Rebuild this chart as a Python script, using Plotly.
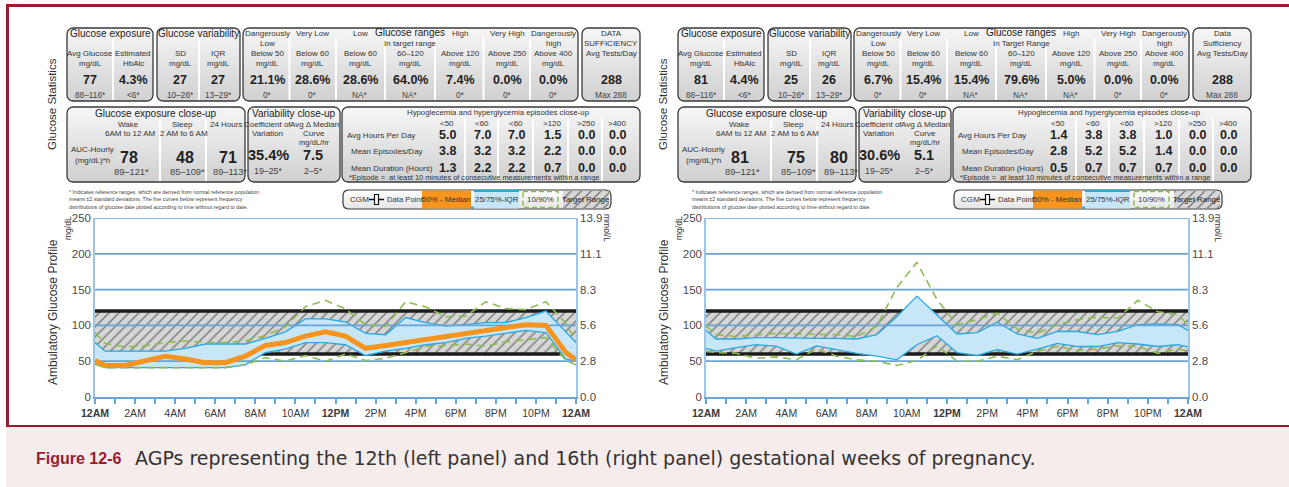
import numpy as np
import plotly.graph_objects as go

W, H = 1289, 487
FONT = "Liberation Sans, Arial, Helvetica, sans-serif"

# ---------------- profile data (mg/dL by hour of day) ----------------
HOURS = [0, 0.5, 1.5, 2.5, 3.5, 4.5, 5.5, 6.5, 7.5, 8.5, 9.5, 10.5, 11.5,
         12.5, 13.5, 14.5, 15.5, 16.5, 17.5, 18.5, 19.5, 20.5, 21.5, 22.5, 23.5, 24]

# week 12
W12_P10 = [46, 41, 41, 41, 41, 41, 41, 41, 45, 55, 50, 58, 50,
           60, 51, 54, 62, 71, 72, 74, 71, 77, 80, 83, 51, 45]
W12_P25 = [46, 41, 41, 41, 41, 41, 41, 41, 45, 62, 67, 76, 76,
           73, 58, 64, 68, 73, 76, 82, 85, 89, 93, 90, 53, 50]
W12_P50 = [51, 44, 44, 50, 57, 53, 48, 48, 57, 72, 76, 85, 91,
           85, 68, 72, 76, 80, 85, 89, 93, 97, 101, 100, 62, 52]
W12_P75 = [76, 64, 64, 64, 64, 68, 74, 74, 74, 82, 91, 109, 109,
           105, 89, 87, 111, 104, 99, 101, 104, 104, 111, 120, 91, 76]
W12_P90 = [90, 75, 70, 71.5, 76, 78.5, 76, 76, 78.5, 85.5, 98.5, 126, 135,
           123, 101, 98.5, 133, 126, 112, 113, 133, 123.6, 122, 133, 103, 77.6]

# week 16 (no median curve shown)
W16_P10 = [64, 62, 61, 54, 56, 52, 67, 57, 52, 50, 44, 51, 71.5,
           50, 50, 57, 52, 64, 70.6, 65, 67, 71.5, 70.6, 61, 67, 64]
W16_P25 = [68, 64, 69, 73, 71, 60, 71.5, 66, 61, 57, 52, 73, 85.5,
           62, 58, 66, 60, 67, 75, 70.5, 70.5, 76, 74, 70.5, 73, 70]
W16_P75 = [93, 81, 81, 83, 83, 82, 82, 82, 81, 87, 112, 141, 115,
           88, 90, 104.5, 88, 82, 91.5, 91.5, 87, 91.5, 101, 102, 101, 93]
W16_P90 = [99.5, 87, 84.6, 87, 89, 88, 87, 87, 84.6, 98.5, 153, 188, 136,
           101, 108, 117, 95, 89, 101, 108, 111.5, 110, 135, 119, 115, 101]

TARGET_LOW, TARGET_HIGH = 60, 120
X_RANGE = [0, 24]
HOUR_TICKS = list(range(25))
HOUR_LABELS = ["<b>12AM</b>", "", "2AM", "", "4AM", "", "6AM", "", "8AM", "", "10AM", "",
               "<b>12PM</b>", "", "2PM", "", "4PM", "", "6PM", "", "8PM", "", "10PM", "",
               "<b>12AM</b>"]
Y_TICKS = [0, 50, 100, 150, 200, 250]
MMOL_LABELS = ["0.0", "2.8", "5.6", "8.3", "11.1", "13.9"]

# ---------------- statistics tables ----------------
W12_STATS = ["77", "4.3%", "27", "27", "21.1%", "28.6%", "28.6%", "64.0%", "7.4%", "0.0%", "0.0%", "288"]
W12_REFS = ["88–116*", "<6*", "10–26*", "13–29*", "0*", "0*", "NA*", "NA*", "0*", "0*", "0*", "Max 288"]
W16_STATS = ["81", "4.4%", "25", "26", "6.7%", "15.4%", "15.4%", "79.6%", "5.0%", "0.0%", "0.0%", "288"]
W16_REFS = ["88–116*", "<6*", "10–26*", "13–29*", "0*", "0*", "NA*", "NA*", "NA*", "0*", "0*", "Max 288"]

AUC_REFS = ["89–121*", "85–109*", "89–113*"]
VAR_REFS = ["19–25*", "2–5*"]
W12_AUC = ["78", "48", "71"]
W16_AUC = ["81", "75", "80"]
W12_VAR = ["35.4%", "7.5"]
W16_VAR = ["30.6%", "5.1"]

EPI_HEADERS = ["<50", "<60", "<60", ">120", ">250", ">400"]
EPI_ROWS = ["Avg Hours Per Day", "Mean Episodes/Day", "Mean Duration (Hours)"]
W12_EPI = [[5.0, 7.0, 7.0, 1.5, 0.0, 0.0],
           [3.8, 3.2, 3.2, 2.2, 0.0, 0.0],
           [1.3, 2.2, 2.2, 0.7, 0.0, 0.0]]
W16_EPI = [[1.4, 3.8, 3.8, 1.0, 0.0, 0.0],
           [2.8, 5.2, 5.2, 1.4, 0.0, 0.0],
           [0.5, 0.7, 0.7, 0.7, 0.0, 0.0]]

FOOTNOTE = ["* Indicates reference ranges, which are derived from normal reference population",
            "means ±2 standard deviations. The five curves below represent frequency",
            "distributions of glucose date plotted according to time without regard to date."]

# ---------------- colours ----------------
MAROON = "#9a1b30"
GRID = "#6aa3d5"
AXIS = "#9cc5e8"
IQR_LINE = "#27a9e1"
IQR_FILL = "#c7e7f8"
MEDIAN = "#f7941d"
DECILE = "#8dbd52"
BLACK = "#1b1b1b"
HATCH = dict(shape="/", bgcolor="#d6d6d6", fgcolor="#1e1e1e", size=7, solidity=0.2)

fig = go.Figure()
annotations = []
shapes = []


def text(x, y, s, size=8, color="#333333", bold=False, xanchor="center", angle=0, family=FONT):
    if bold:
        s = "<b>%s</b>" % s
    annotations.append(dict(x=x, y=y, xref="x3", yref="y5", text=s, showarrow=False,
                            font=dict(size=size, color=color, family=family),
                            xanchor=xanchor, yanchor="middle", textangle=angle))


def vline(x, y0, y1, color="white", width=2):
    shapes.append(dict(type="line", xref="x3", yref="y5", x0=x, x1=x, y0=y0, y1=y1,
                       line=dict(color=color, width=width), layer="above"))


def rounded_box(x0, y0, x1, y1, r=6, top="#f6f6f6", bottom="#d0d0d0", border="#3a3a3a", width=1.3):
    xs, ys = [], []
    for cx, cy, a0, a1 in [(x1 - r, y0 + r, -90, 0), (x1 - r, y1 - r, 0, 90),
                           (x0 + r, y1 - r, 90, 180), (x0 + r, y0 + r, 180, 270)]:
        for a in np.radians(np.linspace(a0, a1, 8)):
            xs.append(cx + r * np.cos(a))
            ys.append(cy + r * np.sin(a))
    xs.append(xs[0])
    ys.append(ys[0])
    fig.add_trace(go.Scatter(
        x=xs, y=ys, mode="lines", fill="toself",
        fillgradient=dict(type="vertical", colorscale=[[0, top], [1, bottom]], start=y0, stop=y1),
        line=dict(color=border, width=width), xaxis="x3", yaxis="y5",
        hoverinfo="skip", showlegend=False))


def agp(xa, ya, ya_right, p10, p25, p75, p90, p50=None):
    common = dict(xaxis=xa, yaxis=ya, mode="lines", hoverinfo="skip", showlegend=False)
    # target range band
    fig.add_trace(go.Scatter(x=X_RANGE, y=[TARGET_LOW] * 2, line=dict(color=BLACK, width=3.5), **common))
    fig.add_trace(go.Scatter(x=X_RANGE, y=[TARGET_HIGH] * 2, fill="tonexty", fillpattern=HATCH,
                             line=dict(color=BLACK, width=3.5), **common))
    # interquartile band
    fig.add_trace(go.Scatter(x=HOURS, y=p25, line=dict(color=IQR_LINE, width=1.3), **common))
    fig.add_trace(go.Scatter(x=HOURS, y=p75, fill="tonexty", fillcolor=IQR_FILL,
                             line=dict(color=IQR_LINE, width=1.3), **common))
    # horizontal grid over the bands
    for v in Y_TICKS[1:]:
        fig.add_trace(go.Scatter(x=X_RANGE, y=[v, v], line=dict(color=GRID, width=1.7), **common))
    # 10th / 90th percentiles
    for p in (p10, p90):
        fig.add_trace(go.Scatter(x=HOURS, y=p, line=dict(color=DECILE, width=1.6, dash="8px,5px"), **common))
    if p50 is not None:
        fig.add_trace(go.Scatter(x=HOURS, y=p50, line=dict(color=MEDIAN, width=5), **common))
    # empty trace so the mmol/L axis is drawn
    fig.add_trace(go.Scatter(x=X_RANGE, y=[None, None], xaxis=xa, yaxis=ya_right, mode="lines",
                             hoverinfo="skip", showlegend=False))


def panel(dx, stats, refs, target_label, suff, auc, var, epi, note_x):
    X = lambda v: v + dx
    # --- top statistics row ---
    rounded_box(X(67), 28, X(153), 101)
    rounded_box(X(157), 28, X(240), 101)
    rounded_box(X(243), 28, X(578), 101)
    rounded_box(X(582), 28, X(640), 101)
    for sx in (113, 199, 289.5, 336, 385, 435, 483.5, 530):
        vline(X(sx), 38, 100)
    text(X(110), 33, "Glucose exposure", size=10, color="#222")
    text(X(198), 33, "Glucose variability", size=10, color="#222")
    text(X(410), 32, "Glucose ranges", size=10, color="#222")
    heads = [("Avg Glucose", "mg/dL"), ("Estimated", "HbAlc"), ("SD", "mg/dL"), ("IQR", "mg/dL")]
    for cx, (c, d) in zip((90, 133, 180, 218), heads):
        text(X(cx), 53, c)
        text(X(cx), 63, d)
    range_heads = [("Dangerously", "Low", "Below 50"), ("Very Low", "", "Below 60"), ("Low", "", "Below 60"),
                   ("", target_label, "60–120"), ("High", "", "Above 120"), ("Very High", "", "Above 250"),
                   ("Dangerously", "high", "Above 400")]
    range_cols = (267, 312, 360, 410, 460, 507, 553)
    for cx, (a, b, c) in zip(range_cols, range_heads):
        if a:
            text(X(cx), 33.5, a)
        if b:
            text(X(cx), 43, b)
        text(X(cx), 53, c)
        text(X(cx), 63, "mg/dL")
    text(X(611), 33.5, suff[0])
    text(X(611), 43, suff[1])
    text(X(611), 53, "Avg Tests/Day")
    for cx, v, r in zip((90, 133, 180, 218) + range_cols + (611,), stats, refs):
        text(X(cx), 80, v, size=12.5, color="#222", bold=True)
        text(X(cx), 95, r, size=8.3, color="#444")

    # --- close-up row ---
    rounded_box(X(67), 107, X(245), 182)
    rounded_box(X(248), 107, X(340), 182)
    rounded_box(X(342), 107, X(640), 182)
    for sx in (160, 206):
        vline(X(sx), 120, 181)
    for sx in (465, 498, 533, 568, 602):
        vline(X(sx), 117, 181)
    text(X(156), 113, "Glucose exposure close-up", size=10, color="#222")
    text(X(128), 124, "Wake")
    text(X(130), 133, "6AM to 12 AM")
    text(X(182), 124, "Sleep")
    text(X(184), 133, "2 AM to 6 AM")
    text(X(226), 124, "24 Hours")
    text(X(92), 149, "AUC-Hourly")
    text(X(92), 160, "(mg/dL)*h")
    for cx, v, r in zip((129, 185, 228), auc, AUC_REFS):
        text(X(cx), 157, v, size=16, color="#222", bold=True)
        text(X(cx + 2), 172, r, size=9.3, color="#444")

    text(X(294), 113, "Variability close-up", size=10, color="#222")
    text(X(267), 124, "Coefficient of")
    text(X(267), 133, "Variation")
    text(X(314), 124, "Avg Δ Median")
    text(X(314), 133, "Curve")
    text(X(314), 142, "mg/dL/hr", size=7.6)
    for cx, cy, v, r in zip((268, 313), (155, 155), var, VAR_REFS):
        text(X(cx), cy, v, size=14.5, color="#222", bold=True)
        text(X(cx), 171, r, size=8.8, color="#444")

    text(X(498), 112, "Hypoglecemia and hyperglycemia episodes close-up", size=7.8)
    epi_cols = (447, 482, 516, 552, 586, 617)
    for cx, hname in zip(epi_cols, EPI_HEADERS):
        text(X(cx), 123, hname)
    for (lx, ly), label, row in zip(((345, 135), (349, 151), (349, 168)), EPI_ROWS, epi):
        text(X(lx), ly, label, xanchor="left")
        for cx, v in zip(epi_cols, row):
            text(X(cx), ly, "%.1f" % v, size=12.5, color="#222", bold=True)
    text(X(347), 177.5, "*Episode =  at least 10 minutes of consecutive measurements within a range",
         size=7.4, xanchor="left")

    # --- footnote ---
    for i, line in enumerate(FOOTNOTE):
        text(note_x, 191.5 + 7.5 * i, line, size=5.3, color="#444", xanchor="left")

    # --- legend strip ---
    rounded_box(X(343), 190, X(611), 209, r=5, top="#ffffff", bottom="#e4e4e4", border="#3a3a3a", width=1.2)
    text(X(359), 199.5, "CGM", size=8.1)
    shapes.append(dict(type="line", xref="x3", yref="y5", x0=X(369), x1=X(384), y0=199.5, y1=199.5,
                       line=dict(color="#111", width=1.5), layer="above"))
    shapes.append(dict(type="rect", xref="x3", yref="y5", x0=X(374.5), x1=X(378.5), y0=194.5, y1=204.5,
                       fillcolor="white", line=dict(color="#111", width=1.2), layer="above"))
    text(X(385), 199.5, "Data Point", size=7.7, xanchor="left")
    shapes.append(dict(type="rect", xref="x3", yref="y5", x0=X(422), x1=X(471), y0=190.5, y1=208.5,
                       fillcolor=MEDIAN, line=dict(width=0), layer="above"))
    text(X(446.5), 199.5, "50% - Median", size=7.9)
    shapes.append(dict(type="rect", xref="x3", yref="y5", x0=X(474), x1=X(519), y0=190.5, y1=208.5,
                       fillcolor=IQR_FILL, line=dict(width=0), layer="above"))
    shapes.append(dict(type="line", xref="x3", yref="y5", x0=X(474), x1=X(519), y0=191, y1=191,
                       line=dict(color=IQR_LINE, width=2), layer="above"))
    shapes.append(dict(type="line", xref="x3", yref="y5", x0=X(471), x1=X(474), y0=207.5, y1=207.5,
                       line=dict(color=IQR_LINE, width=2), layer="above"))
    text(X(496.5), 199.5, "25/75%-IQR", size=7.9)
    shapes.append(dict(type="rect", xref="x3", yref="y5", x0=X(523), x1=X(558), y0=191.5, y1=207.5,
                       line=dict(color=DECILE, width=1.5, dash="5px,3px"), layer="above"))
    text(X(540.5), 199.5, "10/90%", size=7.9)
    hx = [X(563), X(609), X(609), X(563), X(563)]
    hy = [191, 191, 208, 208, 191]
    fig.add_trace(go.Scatter(x=hx, y=hy, mode="lines", fill="toself", fillpattern=HATCH,
                             line=dict(width=0, color="rgba(0,0,0,0)"), xaxis="x3", yaxis="y5",
                             hoverinfo="skip", showlegend=False))
    text(X(586), 199.5, "Target Range", size=7.9, color="#222")

    # --- rotated side labels ---
    text(X(52), 104, "Glucose Statistics", size=11.5, angle=-90)
    text(X(53), 312, "Ambulatory Glucose Profile", size=12, angle=-90)
    text(X(68), 228, "mg/dL", size=8.5, angle=-90)
    text(X(607), 228, "mmol/L", size=8.5, angle=90)


# ---------------- AGP charts ----------------
agp("x", "y", "y2", W12_P10, W12_P25, W12_P75, W12_P90, p50=W12_P50)
agp("x2", "y3", "y4", W16_P10, W16_P25, W16_P75, W16_P90)

panel(0, W12_STATS, W12_REFS, "In target range", ("DATA", "SUFFICIENCY"), W12_AUC, W12_VAR, W12_EPI, 67)
panel(611, W16_STATS, W16_REFS, "In Target Range", ("Data", "Sufficiency"), W16_AUC, W16_VAR, W16_EPI, 690)

# ---------------- frame and caption ----------------
shapes.append(dict(type="rect", xref="x3", yref="y5", x0=6, x1=W, y0=426, y1=H,
                   fillcolor="#f6ecec", line=dict(width=0), layer="below"))
shapes.append(dict(type="line", xref="x3", yref="y5", x0=6, x1=W, y0=426, y1=426,
                   line=dict(color=MAROON, width=2), layer="above"))
shapes.append(dict(type="line", xref="x3", yref="y5", x0=6, x1=W, y0=5.5, y1=5.5,
                   line=dict(color=MAROON, width=3), layer="above"))
shapes.append(dict(type="line", xref="x3", yref="y5", x0=7.5, x1=7.5, y0=4, y1=426,
                   line=dict(color=MAROON, width=3), layer="above"))
text(34, 458, "Figure 12-6", size=16, color=MAROON, bold=True, xanchor="left")
text(133, 458, "AGPs representing the 12th (left panel) and 16th (right panel) gestational weeks of pregnancy.",
     size=19, color="#333333", xanchor="left", family="DejaVu Sans, Liberation Sans, sans-serif")

# ---------------- axes ----------------
def ydom(top, bottom):
    return [1 - bottom / H, 1 - top / H]


xcommon = dict(range=X_RANGE, tickvals=HOUR_TICKS, ticktext=HOUR_LABELS, ticks="outside", ticklen=5,
               tickwidth=1.5, tickcolor=GRID, showline=True, linecolor=GRID, linewidth=2,
               showgrid=False, zeroline=False, tickfont=dict(size=10.5, color="#3a3a3a", family=FONT),
               fixedrange=True, automargin=False)
ycommon = dict(range=[0, 250], tickvals=Y_TICKS, showgrid=False, zeroline=False, showline=True,
               linecolor=AXIS, linewidth=1.5, ticks="", tickfont=dict(size=11.5, color="#4a4a4a", family=FONT),
               domain=ydom(218, 397), fixedrange=True, automargin=False)

fig.update_layout(
    width=W, height=H, margin=dict(l=0, r=0, t=0, b=0, autoexpand=False),
    paper_bgcolor="white", plot_bgcolor="rgba(0,0,0,0)", showlegend=False,
    xaxis=dict(domain=[95 / W, 576 / W], anchor="y", **xcommon),
    yaxis=dict(anchor="x", ticktext=[str(v) for v in Y_TICKS], **ycommon),
    yaxis2=dict(anchor="x", overlaying="y", side="right", ticktext=MMOL_LABELS, **ycommon),
    xaxis2=dict(domain=[706 / W, 1188 / W], anchor="y3", **xcommon),
    yaxis3=dict(anchor="x2", ticktext=[str(v) for v in Y_TICKS], **ycommon),
    yaxis4=dict(anchor="x2", overlaying="y3", side="right", ticktext=MMOL_LABELS, **ycommon),
    xaxis3=dict(domain=[0, 1], range=[0, W], visible=False, anchor="y5", fixedrange=True, automargin=False),
    yaxis5=dict(domain=[0, 1], range=[H, 0], visible=False, anchor="x3", fixedrange=True, automargin=False),
    annotations=annotations, shapes=shapes,
)

fig.write_html("out.html")
